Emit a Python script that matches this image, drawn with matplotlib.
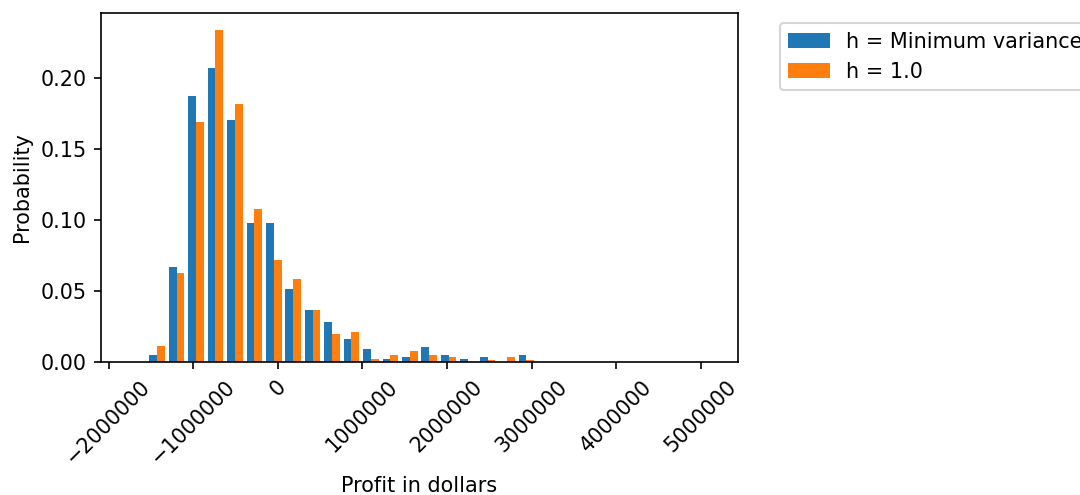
import numpy as np
import matplotlib
matplotlib.use("Agg")
import matplotlib.pyplot as plt

# histogram bins of simulated profit (dollars)
bin_edges = np.linspace(-1.77e6, 5.12e6, 31)

# probability per bin, h = minimum variance hedge ratio
prob_min_var = [0.0, 0.005, 0.067, 0.1875, 0.2067, 0.1704, 0.098, 0.098,
                0.0515, 0.0368, 0.0283, 0.0164, 0.0091, 0.002, 0.0035, 0.0105,
                0.005, 0.0018, 0.0033, 0.0, 0.0049, 0.0, 0.0, 0.0,
                0.0, 0.0, 0.0, 0.0, 0.0, 0.0]

# probability per bin, h = 1.0
prob_h1 = [0.0, 0.011, 0.063, 0.1688, 0.234, 0.1819, 0.1079, 0.0716,
           0.0587, 0.0368, 0.0194, 0.0209, 0.0021, 0.0051, 0.0079, 0.005,
           0.0034, 0.0, 0.0017, 0.0033, 0.0017, 0.0, 0.0, 0.0,
           0.0, 0.0, 0.0, 0.0, 0.0, 0.0]

labels = ["h = Minimum variance", "h = 1.0"]

centers = (bin_edges[:-1] + bin_edges[1:]) / 2

dpi = 149
fig = plt.figure(figsize=(1080 / dpi, 495 / dpi), dpi=dpi)
ax = fig.add_axes([101 / 1080, 1 - 362 / 495, 637 / 1080, 349 / 495])

ax.hist([centers, centers], bins=bin_edges, weights=[prob_min_var, prob_h1],
        label=labels, color=["#1f77b4", "#ff7f0e"])

ax.set_xticks(np.arange(-2e6, 5.1e6, 1e6))
ax.set_xticklabels(["\u22122000000", "\u22121000000", "0", "1000000",
                    "2000000", "3000000", "4000000", "5000000"])
plt.setp(ax.get_xticklabels(), rotation=45)
ax.set_yticks([0, 0.05, 0.10, 0.15, 0.20])
ax.set_yticklabels(["0.00", "0.05", "0.10", "0.15", "0.20"])

ax.set_xlabel("Profit in dollars")
ax.set_ylabel("Probability")
ax.legend(bbox_to_anchor=(1.05, 1), loc=2)

fig.savefig("out.png", dpi=dpi)
